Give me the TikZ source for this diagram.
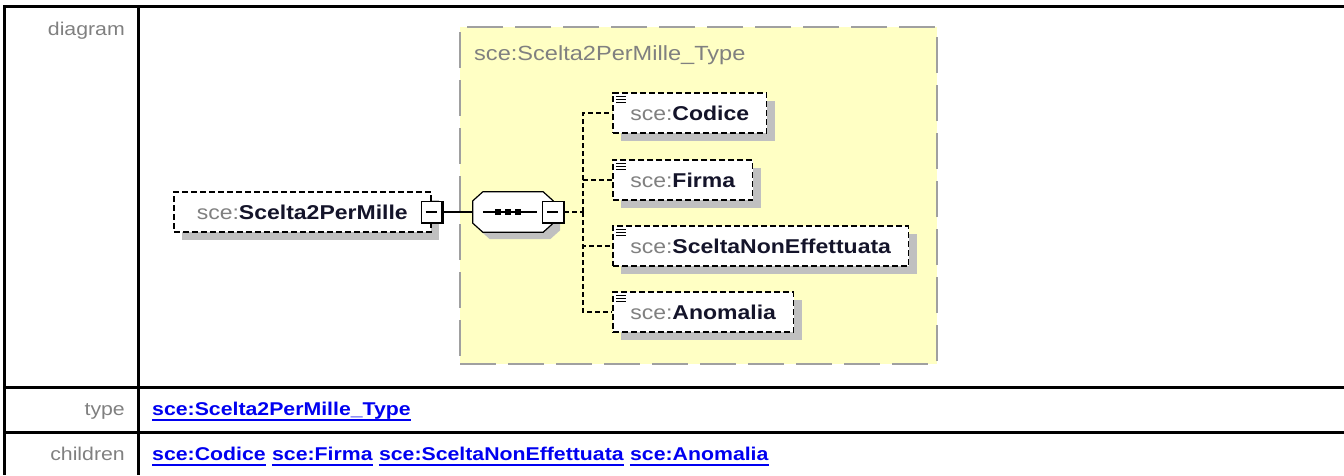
\documentclass[tikz,border=0pt]{standalone}
\usepackage{fontspec}
\setmainfont{Liberation Sans}[FakeStretch=1.15]
\usepackage{tikz}
\usetikzlibrary{positioning,shadows}
\definecolor{dFill}{HTML}{FFFFC4}
\definecolor{dEdge}{HTML}{A0A0A0}
\definecolor{dShade}{HTML}{C0C0C0}
\definecolor{dGray}{HTML}{808080}
\definecolor{dInk}{HTML}{14142A}
\definecolor{dLink}{HTML}{0000F0}
\newcommand{\scepfx}{\textcolor{dGray}{\mdseries sce:}}

\begin{document}
\begin{tikzpicture}[x=1pt, y=-1pt,
          cell/.style={line width=3pt, black},
          lbl/.style={text=dGray, font=\fontsize{18.5}{22}\selectfont, inner sep=0pt,
            text height=14pt, text depth=4pt, anchor=east},
          lnk/.style={text=dLink, font=\fontsize{18.5}{22}\selectfont\bfseries, inner sep=0pt,
            text height=14pt, text depth=4pt, anchor=west},
          elem/.style={draw=black, line width=1.6pt, dash pattern=on 6pt off 3pt, fill=white,
            text=dInk, font=\fontsize{20}{24}\selectfont\bfseries, minimum height=40pt,
            inner ysep=0pt, inner xsep=17.5pt, anchor=west,
            general shadow={fill=dShade, shadow xshift=8pt, shadow yshift=-8pt}},
          child/.style={elem, path picture={
            \foreach \dy in {3,6,9}
              \draw[solid, line width=1pt, black] ([xshift=3pt, yshift=-\dy pt]path picture bounding box.north west) -- ++(10pt,0pt);}},
          minus/.style={draw=black, line width=1pt, fill=white, minimum width=21pt,
            minimum height=21pt, inner sep=0pt},
          tree/.style={line width=1.5pt, dash pattern=on 5pt off 3pt}]
        \useasboundingbox (0,0) rectangle (1344,475);
        % table frame
        \draw[cell] (3,6) -- (1344,6);
        \draw[cell] (4,5) -- (4,475);
        \draw[cell] (138,5) -- (138,475);
        \draw[cell] (3,387) -- (1344,387);
        \draw[cell] (3,432) -- (1344,432);
        \node[lbl] (ldiag) at (125,30) {diagram};
        \node[lbl] (ltype) at (125,410) {type};
        \node[lbl] (lkids) at (125,455) {children};
        \node[lnk] (vtype) at (152,410) {sce:Scelta2PerMille\_Type};
        \node[lnk] (k1) at (152,455) {sce:Codice};
        \node[lnk, right=6pt of k1] (k2) {sce:Firma};
        \node[lnk, right=6pt of k2] (k3) {sce:SceltaNonEffettuata};
        \node[lnk, right=6pt of k3] (k4) {sce:Anomalia};
        \foreach \n in {vtype,k1,k2,k3,k4}
          \draw[dLink, line width=1.6pt] ([yshift=-1pt]\n.south west) -- ([yshift=-1pt]\n.south east);
        % complex type box
        \node[draw=dEdge, line width=2pt, dash pattern=on 36pt off 12pt, fill=dFill,
          minimum width=477pt, minimum height=337pt, inner sep=0pt] (ctype) at (698.5,195.5) {};
        \node[text=dGray, font=\fontsize{20.5}{24}\selectfont, inner sep=0pt, anchor=west] (ctitle) at (474,55) {sce:Scelta2PerMille\_Type};
        % root element and sequence
        \node[elem, inner xsep=23pt] (root) at (173,212) {\scepfx Scelta2PerMille};
        \node[minus] (rootm) at (root.east) {};
        \node[minimum width=80pt, minimum height=40pt, inner sep=0pt] (seq) at (513,212) {};
        \draw[line width=1.2pt, fill=white,
          general shadow={fill=dShade, shadow xshift=7pt, shadow yshift=-7pt}]
          ([xshift=10pt]seq.north west) -- ([xshift=-10pt]seq.north east)
          -- ([yshift=-9pt]seq.north east) -- ([yshift=9pt]seq.south east)
          -- ([xshift=-10pt]seq.south east) -- ([xshift=10pt]seq.south west)
          -- ([yshift=9pt]seq.south west) -- ([yshift=-9pt]seq.north west) -- cycle;
        \node[minus] (seqm) at (seq.east) {};
        \draw[line width=1.1pt] ([xshift=10pt]seq.west) -- ([xshift=-16pt]seq.east);
        \foreach \dx in {25,35,45}
          \fill ([xshift=\dx pt]seq.west) ++(-3,-3) rectangle ++(6,6);
        \foreach \m in {rootm,seqm} {
          \draw[line width=2.5pt] (\m.north east) -- (\m.south east) -- (\m.south west);
          \draw[line width=1.5pt] ([xshift=5pt]\m.west) -- ([xshift=-6pt]\m.east);
        }
        % children
        \node[child] (cod) at (612,113) {\scepfx Codice};
        \node[child] (fir) at (612,180) {\scepfx Firma};
        \node[child] (sne) at (612,246) {\scepfx SceltaNonEffettuata};
        \node[child] (ano) at (612,312) {\scepfx Anomalia};
        \coordinate (spine) at (583,212);
        \draw[line width=1.3pt] (rootm.east) -- (seq.west);
        \draw[tree] (seqm.east) -- (spine);
        \foreach \c in {cod,fir,sne,ano}
          \draw[tree] (spine) |- (\c.west);
      \end{tikzpicture}
\end{document}
